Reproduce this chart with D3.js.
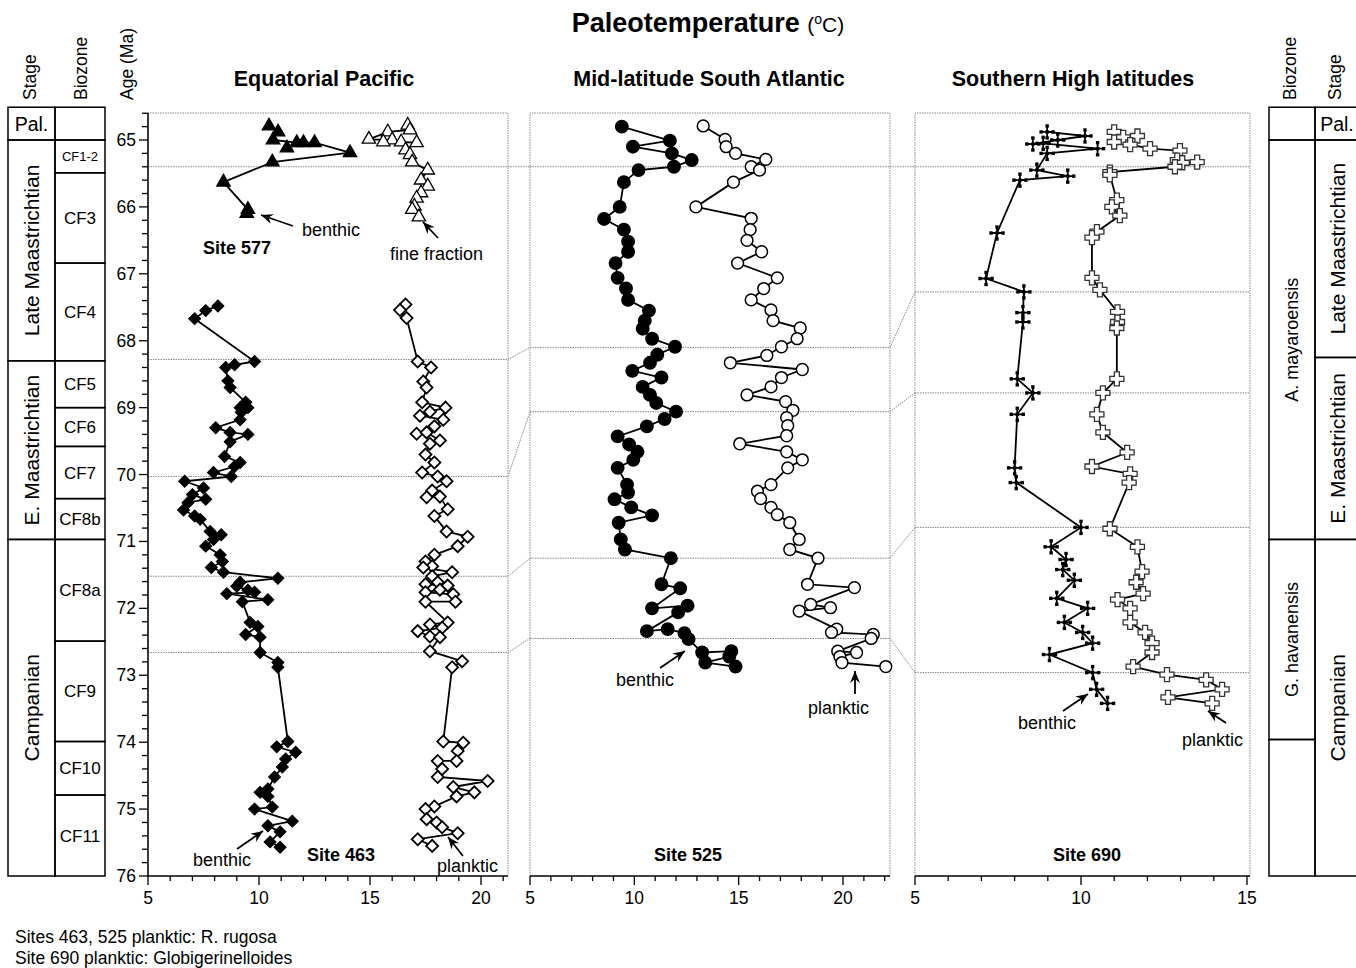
<!DOCTYPE html>
<html>
<head>
<meta charset="utf-8">
<script src="https://cdn.jsdelivr.net/npm/d3@7"></script>
<style>
  body { margin: 0; background: #fff; }
  svg { font-family: "Liberation Sans", Arial, Helvetica, sans-serif; }
</style>
</head>
<body>
<svg id="chart" width="1356" height="968"></svg>
<script>
// ---- data: [age (Ma), temperature (C)] ----
var site577Benthic = [[64.79,10.45],[64.88,10.86],[65.00,10.63],[65.04,11.7],[65.12,11.26],[65.04,12.0],[65.04,12.5],
  [65.19,14.1],[65.33,10.6],[65.63,8.4],[66.04,9.5],[66.10,9.45]];
var site577Fine = [[64.78,16.7],[64.85,16.8],[64.88,15.8],[64.99,14.95],[65.00,16.0],[65.03,15.6],[65.03,16.4],[65.04,17.1],
  [65.15,16.6],[65.22,16.8],[65.33,16.9],[65.45,17.6],[65.60,17.3],[65.69,17.6],[65.79,17.3],[65.87,17.1],[65.99,17.0],
  [66.04,16.9],[66.15,17.2]];
var site463Benthic = [[67.48,8.15],[67.55,7.6],[67.67,7.1],[68.31,9.8],[68.36,8.9],[68.40,8.5],[68.60,8.6],[68.70,8.7],
  [68.92,9.4],[69.00,9.15],[69.00,9.5],[69.07,9.2],[69.18,9.15],[69.30,8.05],[69.37,8.7],[69.40,9.5],[69.51,8.7],
  [69.73,8.45],[69.82,9.15],[69.88,8.9],[69.97,7.95],[70.03,8.75],[70.10,6.65],[70.20,7.5],[70.30,7.0],[70.37,7.6],
  [70.42,6.8],[70.53,6.6],[70.62,7.1],[70.67,7.35],[70.85,7.8],[70.90,8.3],[70.97,7.95],[71.07,7.6],[71.20,8.25],
  [71.30,8.35],[71.39,7.85],[71.46,8.4],[71.55,10.85],[71.61,9.15],[71.67,9.0],[71.73,9.5],[71.76,9.8],[71.78,8.55],
  [71.87,10.4],[71.90,9.25],[72.21,9.6],[72.27,9.95],[72.39,9.4],[72.43,10.05],[72.66,10.05],[72.81,10.85],
  [72.88,10.85],[73.99,11.3],[74.07,10.8],[74.15,11.65],[74.25,11.2],[74.37,11.05],[74.52,10.7],[74.70,10.4],
  [74.75,10.05],[74.81,10.4],[74.97,10.6],[75.00,9.8],[75.18,11.5],[75.25,10.4],[75.34,10.95],[75.49,10.5],[75.57,10.95]];
var site463Planktic = [[67.46,16.6],[67.54,16.35],[67.66,16.65],[68.31,17.15],[68.40,17.75],[68.61,17.4],[68.70,17.55],
  [68.92,17.35],[69.00,18.4],[69.06,17.7],[69.12,17.25],[69.18,18.3],[69.28,17.9],[69.39,17.1],[69.37,17.55],
  [69.49,18.15],[69.54,17.7],[69.70,17.5],[69.82,17.9],[69.97,17.35],[70.03,18.05],[70.10,18.45],[70.24,17.8],
  [70.34,17.55],[70.33,18.15],[70.52,18.5],[70.62,17.9],[70.85,18.45],[70.93,19.4],[71.07,18.95],[71.20,17.9],
  [71.30,17.5],[71.37,17.8],[71.39,17.4],[71.46,18.7],[71.52,17.8],[71.61,18.05],[71.64,17.5],[71.66,18.5],
  [71.72,18.15],[71.76,17.5],[71.79,18.75],[71.90,18.85],[71.90,17.5],[72.21,18.5],[72.24,17.7],[72.29,18.25],
  [72.34,17.15],[72.42,17.7],[72.43,18.15],[72.64,17.7],[72.79,19.15],[72.88,18.7],[73.99,18.3],[74.01,19.2],
  [74.13,18.95],[74.28,18.9],[74.28,18.05],[74.40,18.25],[74.52,18.05],[74.58,20.3],[74.67,18.75],[74.75,19.7],
  [74.81,18.9],[74.96,17.9],[75.00,17.5],[75.15,17.55],[75.20,18.0],[75.27,18.25],[75.36,18.95],[75.45,17.15],[75.55,17.8]];
var site525Benthic = [[64.80,9.4],[65.01,11.7],[65.10,9.93],[65.20,11.8],[65.30,12.75],[65.40,11.9],[65.45,10.2],
  [65.63,9.5],[66.00,9.3],[66.18,8.55],[66.34,9.5],[66.52,9.7],[66.67,9.7],[66.84,9.1],[67.06,9.2],[67.22,9.6],
  [67.39,9.7],[67.55,10.7],[67.70,10.5],[67.82,10.4],[67.97,10.85],[68.09,11.95],[68.21,11.1],[68.33,10.75],
  [68.45,9.9],[68.55,11.3],[68.69,10.4],[68.81,10.75],[68.93,11.05],[69.06,12.0],[69.17,11.45],[69.28,10.6],
  [69.43,9.2],[69.55,9.75],[69.66,10.15],[69.78,9.95],[69.90,9.2],[70.15,9.65],[70.27,9.7],[70.37,9.05],
  [70.49,9.85],[70.61,10.85],[70.72,9.25],[70.97,9.35],[71.12,9.55],[71.25,11.75],[71.64,11.3],[71.70,12.2],
  [72.00,10.85],[71.96,12.55],[72.06,12.1],[72.34,10.6],[72.31,11.6],[72.37,12.4],[72.46,12.6],[72.66,13.25],
  [72.64,14.65],[72.72,14.55],[72.81,13.4],[72.87,14.85]];
var site525Planktic = [[64.79,13.3],[64.99,14.35],[65.10,14.4],[65.20,14.85],[65.29,16.3],[65.40,15.6],[65.45,16.0],
  [65.63,14.75],[66.00,12.95],[66.17,15.6],[66.34,15.55],[66.50,15.4],[66.67,16.1],[66.84,14.95],[67.06,16.85],
  [67.22,16.2],[67.39,15.6],[67.54,16.55],[67.70,16.65],[67.81,17.95],[67.97,17.8],[68.09,17.05],[68.22,16.35],
  [68.33,14.6],[68.43,18.05],[68.55,17.05],[68.69,16.55],[68.81,15.4],[68.91,17.25],[69.04,17.6],[69.15,17.3],
  [69.27,17.35],[69.42,17.3],[69.54,15.05],[69.66,17.3],[69.78,18.05],[69.90,17.35],[70.15,16.55],[70.25,15.9],
  [70.36,16.05],[70.49,16.55],[70.60,16.85],[70.72,17.45],[70.97,17.9],[71.12,17.45],[71.25,18.8],[71.64,18.3],
  [71.69,20.55],[71.94,18.45],[71.99,19.4],[72.04,17.9],[72.31,19.7],[72.36,19.45],[72.39,21.45],[72.45,21.35],
  [72.64,19.75],[72.66,20.65],[72.72,19.85],[72.81,19.95],[72.87,22.05]];
var site690Benthic = [[64.88,8.98],[64.94,10.12],[65.00,9.3],[65.06,8.55],[65.05,8.86],[65.13,10.5],[65.20,8.98],
  [65.45,8.67],[65.54,9.6],[65.60,8.16],[66.39,7.47],[67.07,7.14],[67.27,8.28],[67.58,8.25],[67.72,8.25],
  [68.57,8.08],[68.78,8.55],[69.10,8.08],[69.90,8.0],[70.12,8.05],[70.79,10.0],[71.08,9.1],[71.27,9.55],
  [71.42,9.45],[71.58,9.8],[71.85,9.27],[72.00,10.2],[72.21,9.5],[72.36,10.05],[72.52,10.35],[72.69,9.05],
  [72.96,10.35],[73.21,10.47],[73.42,10.8]];
var site690Planktic = [[64.88,11.0],[64.96,11.27],[64.94,11.7],[65.03,11.0],[65.07,11.48],[65.13,12.08],[65.16,12.98],
  [65.30,12.9],[65.34,13.05],[65.33,13.5],[65.40,12.83],[65.48,10.87],[65.52,10.87],[65.90,11.08],[66.00,10.93],
  [66.13,11.17],[66.37,10.48],[66.46,10.33],[67.06,10.33],[67.24,10.57],[67.57,11.1],[67.72,11.1],[67.81,11.08],
  [68.57,11.08],[68.78,10.66],[69.10,10.48],[69.37,10.66],[69.67,11.39],[69.88,10.33],[69.99,11.48],[70.12,11.45],
  [70.81,10.87],[71.08,11.7],[71.45,11.84],[71.61,11.66],[71.78,11.87],[71.87,11.1],[72.00,11.48],[72.21,11.48],
  [72.36,11.93],[72.52,12.14],[72.66,12.14],[72.87,11.57],[72.99,12.59],[73.07,13.77],[73.21,14.25],[73.33,12.62],[73.42,13.95]];

// correlation tie lines (age in each panel)
var tieP1 = [65.40, 68.28, 70.03, 71.52, 72.66];
var tieP2 = [65.40, 68.10, 69.06, 71.25, 72.45];
var tieP3 = [65.40, 67.27, 68.78, 70.79, 72.96];

// stratigraphy: [label, top age, bottom age]
var stagesLeft = [["Pal.",64.51,65.0],["Late Maastrichtian",65.0,68.3],["E. Maastrichtian",68.3,70.97],["Campanian",70.97,76.0]];
var zonesLeft = [["",64.51,65.0],["CF1-2",65.0,65.49],["CF3",65.49,66.84],["CF4",66.84,68.3],["CF5",68.3,69.0],
  ["CF6",69.0,69.58],["CF7",69.58,70.36],["CF8b",70.36,70.97],["CF8a",70.97,72.49],["CF9",72.49,73.99],
  ["CF10",73.99,74.79],["CF11",74.79,76.0]];
var zonesRight = [["",64.51,65.0],["A. mayaroensis",65.0,70.97],["G. havanensis",70.97,73.96],["",73.96,76.0]];
var stagesRight = [["Pal.",64.51,65.0],["Late Maastrichtian",65.0,68.25],["E. Maastrichtian",68.25,70.97],["Campanian",70.97,76.0]];

var ageTicks = d3.range(65, 76.01, 1);

var svg = d3.select("#chart");
var y = d3.scaleLinear().domain([65, 76]).range([140, 876]);
var yTop = 113, yBot = 876;

var panels = [
  {x: d3.scaleLinear().domain([5, 20]).range([148, 481]), left: 148, right: 508, tmax: 21, title: "Equatorial Pacific", tcx: 324},
  {x: d3.scaleLinear().domain([5, 20]).range([530, 843]), left: 530, right: 890, tmax: 22, title: "Mid-latitude South Atlantic", tcx: 709},
  {x: d3.scaleLinear().domain([5, 15]).range([915, 1247]), left: 915, right: 1250, tmax: 15, title: "Southern High latitudes", tcx: 1073}
];

// ---- title ----
var t = svg.append("text").attr("x", 708).attr("y", 32).attr("text-anchor", "middle");
t.append("tspan").attr("font-weight", "bold").attr("font-size", 27).text("Paleotemperature ");
t.append("tspan").attr("font-size", 21).text("(");
t.append("tspan").attr("font-size", 14).attr("dy", -8).text("o");
t.append("tspan").attr("font-size", 21).attr("dy", 8).text("C)");

panels.forEach(function(p) {
  svg.append("text").attr("x", p.tcx).attr("y", 86).attr("text-anchor", "middle")
    .attr("font-weight", "bold").attr("font-size", 21.5).text(p.title);
});

var dotted = function(sel) { return sel.attr("stroke", "#8a8a8a").attr("stroke-width", 1).attr("stroke-dasharray", "1.5,1").attr("fill", "none"); };

// ---- panel frames ----
panels.forEach(function(p) {
  dotted(svg.append("path").attr("d", "M" + p.left + "," + yBot + "V" + yTop + "H" + p.right + "V" + yBot));
});

// ---- tie lines ----
var ties = [tieP1, tieP2, tieP3];
panels.forEach(function(p, i) {
  ties[i].forEach(function(a) {
    dotted(svg.append("line").attr("x1", p.left).attr("x2", p.right).attr("y1", y(a)).attr("y2", y(a)));
  });
  if (i < 2) {
    var q = panels[i + 1];
    ties[i].forEach(function(a, k) {
      dotted(svg.append("line").attr("x1", p.right).attr("y1", y(a)).attr("x2", q.left).attr("y2", y(ties[i + 1][k])));
    });
  }
});

// ---- age axis ----
var ya = svg.append("g");
ya.append("line").attr("x1", 148).attr("x2", 148).attr("y1", yTop).attr("y2", yBot).attr("stroke", "#000").attr("stroke-width", 1.5);
d3.range(64.6, 76.001, 0.2).forEach(function(a) {
  var major = Math.abs(a - Math.round(a)) < 0.01;
  ya.append("line").attr("x1", 148).attr("x2", major ? 139 : 142).attr("y1", y(a)).attr("y2", y(a))
    .attr("stroke", "#000").attr("stroke-width", 1.3);
});
ageTicks.forEach(function(a) {
  ya.append("text").attr("x", 136).attr("y", y(a) + 6).attr("text-anchor", "end").attr("font-size", 17.5).text(a);
});

// ---- temperature axes ----
panels.forEach(function(p) {
  var g = svg.append("g");
  g.append("line").attr("x1", p.left).attr("x2", p.right).attr("y1", yBot).attr("y2", yBot).attr("stroke", "#000").attr("stroke-width", 1.5);
  d3.range(5, p.tmax + 0.01, 1).forEach(function(v) {
    var major = v % 5 === 0;
    g.append("line").attr("x1", p.x(v)).attr("x2", p.x(v)).attr("y1", yBot).attr("y2", yBot + (major ? 9 : 5))
      .attr("stroke", "#000").attr("stroke-width", 1.3);
    if (major) g.append("text").attr("x", p.x(v)).attr("y", yBot + 28).attr("text-anchor", "middle").attr("font-size", 17.5).text(v);
  });
});

// ---- markers ----
function drawSeries(p, data, shape, filled) {
  var g = svg.append("g");
  var line = d3.line().x(function(d) { return p.x(d[1]); }).y(function(d) { return y(d[0]); });
  g.append("path").datum(data).attr("d", line).attr("fill", "none").attr("stroke", "#000").attr("stroke-width", 1.8);
  var m = g.selectAll("g.m").data(data).enter().append("g").attr("class", "m")
    .attr("transform", function(d) { return "translate(" + p.x(d[1]) + "," + y(d[0]) + ")"; });
  if (shape === "triangle") {
    m.append("path").attr("d", d3.symbol(d3.symbolTriangle, 78)())
      .attr("fill", filled ? "#000" : "#fff").attr("stroke", "#000").attr("stroke-width", 1.3);
  } else if (shape === "diamond") {
    m.append("path").attr("d", d3.symbol(d3.symbolSquare, 72)()).attr("transform", "rotate(45)")
      .attr("fill", filled ? "#000" : "#fff").attr("stroke", "#000").attr("stroke-width", filled ? 1 : 1.8);
  } else if (shape === "circle") {
    m.append("circle").attr("r", filled ? 6.2 : 5.9)
      .attr("fill", filled ? "#000" : "#fff").attr("stroke", "#000").attr("stroke-width", 1.5);
  } else if (shape === "cross") {
    if (filled) {
      m.append("path").attr("d", "M-6,0H6M0,-6V6").attr("stroke", "#000").attr("stroke-width", 1.8);
      m.selectAll("rect").data([[-6,0],[6,0],[0,-6],[0,6],[0,0]]).enter().append("rect")
        .attr("x", function(d) { return d[0] - 1.7; }).attr("y", function(d) { return d[1] - 1.7; })
        .attr("width", 3.4).attr("height", 3.4).attr("fill", "#000");
    } else {
      m.append("path").attr("d", "M-2.5,-7H2.5V-2.5H7V2.5H2.5V7H-2.5V2.5H-7V-2.5H-2.5Z")
        .attr("fill", "#fff").attr("stroke", "#333").attr("stroke-width", 1.3);
    }
  }
}

drawSeries(panels[0], site577Fine, "triangle", false);
drawSeries(panels[0], site577Benthic, "triangle", true);
drawSeries(panels[0], site463Planktic, "diamond", false);
drawSeries(panels[0], site463Benthic, "diamond", true);
drawSeries(panels[1], site525Planktic, "circle", false);
drawSeries(panels[1], site525Benthic, "circle", true);
drawSeries(panels[2], site690Planktic, "cross", false);
drawSeries(panels[2], site690Benthic, "cross", true);

// ---- annotations ----
svg.append("defs").append("marker").attr("id", "arr").attr("viewBox", "-12 -6 14 12")
  .attr("markerWidth", 14).attr("markerHeight", 12).attr("refX", 0).attr("refY", 0)
  .attr("orient", "auto").attr("markerUnits", "userSpaceOnUse")
  .append("path").attr("d", "M0,0L-12,-5L-8,0L-12,5Z").attr("fill", "#000");

var labels = [
  {t: "benthic", x: 302, y: 236, a: [293, 226, 261, 215]},
  {t: "Site 577", x: 203, y: 254, b: true},
  {t: "fine fraction", x: 390, y: 260, a: [438, 238, 423, 222]},
  {t: "benthic", x: 193, y: 866, a: [237, 849, 263, 831]},
  {t: "Site 463", x: 307, y: 861, b: true},
  {t: "planktic", x: 437, y: 872, a: [463, 856, 448, 837]},
  {t: "benthic", x: 616, y: 686, a: [660, 668, 685, 651]},
  {t: "planktic", x: 808, y: 714, a: [855, 694, 855, 671]},
  {t: "Site 525", x: 654, y: 861, b: true},
  {t: "benthic", x: 1018, y: 729, a: [1063, 711, 1088, 694]},
  {t: "planktic", x: 1182, y: 746, a: [1226, 723, 1208, 711]},
  {t: "Site 690", x: 1053, y: 861, b: true}
];
labels.forEach(function(l) {
  svg.append("text").attr("x", l.x).attr("y", l.y).attr("font-size", 18)
    .attr("font-weight", l.b ? "bold" : "normal").text(l.t);
  if (l.a) {
    svg.append("line").attr("x1", l.a[0]).attr("y1", l.a[1]).attr("x2", l.a[2]).attr("y2", l.a[3])
      .attr("stroke", "#000").attr("stroke-width", 1.8).attr("marker-end", "url(#arr)");
  }
});

// ---- stratigraphic columns ----
function column(data, x0, x1, fs, rotate, cxOverride) {
  var g = svg.append("g");
  data.forEach(function(d) {
    var y0 = y(d[1]), y1 = y(d[2]);
    g.append("rect").attr("x", x0).attr("y", y0).attr("width", x1 - x0).attr("height", y1 - y0)
      .attr("fill", "none").attr("stroke", "#000").attr("stroke-width", 1.5);
    if (!d[0]) return;
    var cx = cxOverride || (x0 + x1) / 2, cy = (y0 + y1) / 2;
    var f = typeof fs === "function" ? fs(d) : fs;
    var isRot = rotate && d[0] !== "Pal.";
    var tx = g.append("text").attr("font-size", f).attr("text-anchor", "middle").text(d[0]);
    if (isRot) tx.attr("transform", "translate(" + (cx + f * 0.36) + "," + cy + ") rotate(-90)");
    else tx.attr("x", cx).attr("y", cy + f * 0.36);
  });
}
column(stagesLeft, 8, 55, function(d) { return d[0] === "Pal." ? 19.5 : 21; }, true);
column(zonesLeft, 55, 105, function(d) { return d[0] === "CF1-2" ? 13 : 17; }, false);
column(zonesRight, 1269, 1315, 18, true);
column(stagesRight, 1315, 1380, function(d) { return d[0] === "Pal." ? 19.5 : 21; }, true, 1337);

// column headers
[["Stage", 36], ["Biozone", 87], ["Age (Ma)", 133], ["Biozone", 1296], ["Stage", 1341]].forEach(function(h) {
  svg.append("text").attr("transform", "translate(" + h[1] + ",100) rotate(-90)").attr("font-size", 17.5).text(h[0]);
});

// footnote
svg.append("text").attr("x", 15).attr("y", 943).attr("font-size", 17.5).text("Sites 463, 525 planktic: R. rugosa");
svg.append("text").attr("x", 15).attr("y", 964).attr("font-size", 17.5).text("Site 690 planktic: Globigerinelloides");
</script>
</body>
</html>
